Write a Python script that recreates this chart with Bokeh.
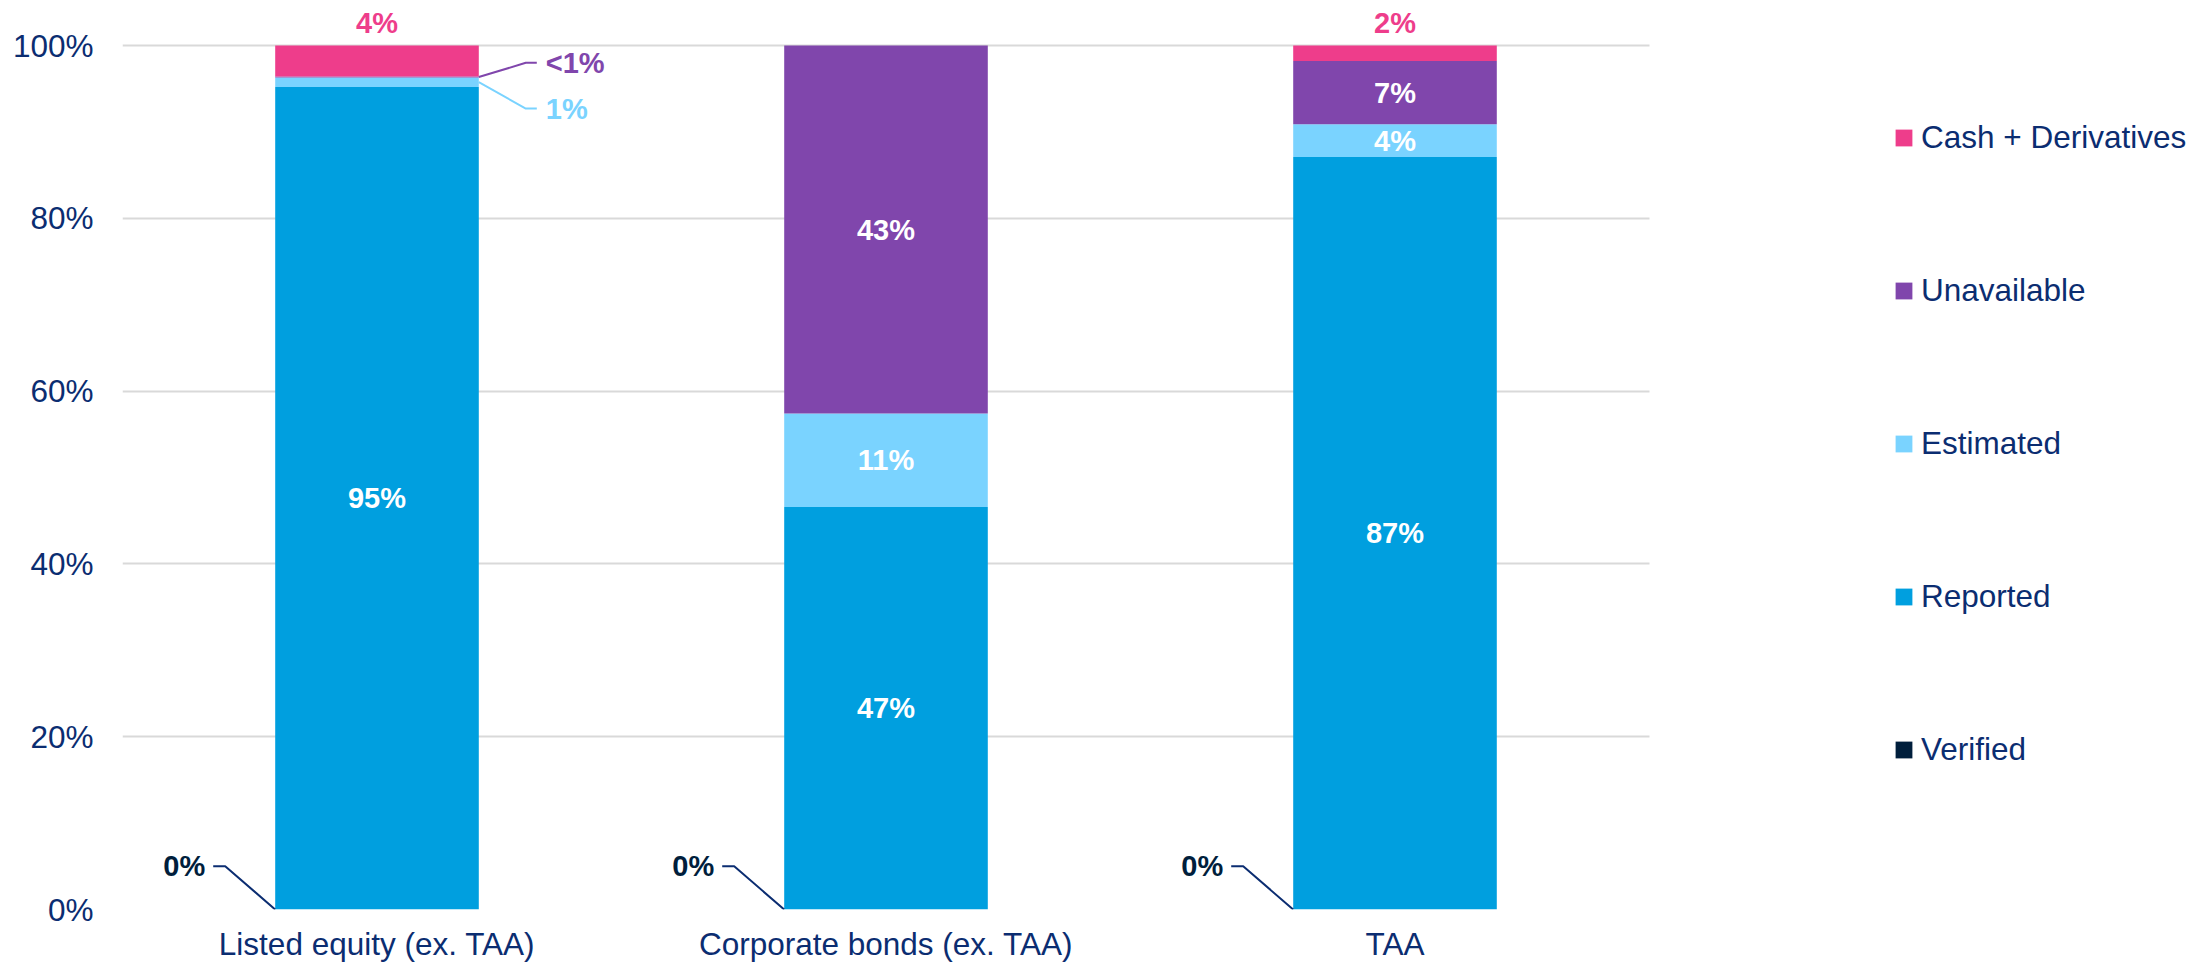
from bokeh.plotting import figure
from bokeh.models import (ColumnDataSource, Range1d, FixedTicker, PrintfTickFormatter,
                          Legend, LegendItem, Grid)
from bokeh.core.properties import value
from bokeh.embed import file_html
from bokeh.resources import INLINE

# ---------------- data ----------------
categories = ["Listed equity (ex. TAA)", "Corporate bonds (ex. TAA)", "TAA"]
series = ["Verified", "Reported", "Estimated", "Unavailable", "Cash + Derivatives"]
verified = [0.0, 0.0, 0.0]
reported = [95.2, 46.6, 87.1]
estimated = [1.1, 10.8, 3.8]
unavailable = [0.1, 42.6, 7.3]
cash = [3.6, 0.0, 1.8]
y_ticks = [0, 20, 40, 60, 80, 100]

# ---------------- style ----------------
FONT = "Liberation Sans"
NAVY = "#0B2D71"
colors = {"Verified": "#001E3C", "Reported": "#009FDF", "Estimated": "#7AD3FF",
          "Unavailable": "#8046AC", "Cash + Derivatives": "#EE3D8B"}
BAR_W = 0.4
PX_X = 509.0   # px per x unit
W, H = 2207, 965
LEFT, BOTTOM = 122, 56
N = len(categories)

HAS_CROSS = "cross_bounds" in Grid.properties()

if HAS_CROSS:
    x_end = (W - LEFT) / PX_X
    right_border = 0
else:
    x_end = N
    right_border = 558

xs = [i + 0.5 for i in range(N)]
data = {"x": xs, "Verified": verified, "Reported": reported, "Estimated": estimated,
        "Unavailable": unavailable, "Cash + Derivatives": cash}
source = ColumnDataSource(data)

p = figure(width=W, height=H, x_range=Range1d(0, x_end), y_range=Range1d(0, 105.21),
           output_backend="svg", toolbar_location=None,
           min_border_left=LEFT, min_border_right=right_border, min_border_top=0,
           min_border_bottom=BOTTOM)
p.outline_line_color = None
p.background_fill_color = "white"
p.border_fill_color = "white"

renderers = p.vbar_stack(series, x="x", width=BAR_W, source=source,
                         fill_color=[colors[s] for s in series], line_color=None)

# axes
p.xaxis.ticker = FixedTicker(ticks=xs)
p.xaxis.major_label_overrides = {x: c for x, c in zip(xs, categories)}
p.yaxis.ticker = FixedTicker(ticks=y_ticks)
p.yaxis.formatter = PrintfTickFormatter(format="%d%%")
for ax in (p.xaxis, p.yaxis):
    ax.axis_line_color = None
    ax.major_tick_line_color = None
    ax.minor_tick_line_color = None
    ax.major_tick_out = 0
    ax.major_tick_in = 0
    ax.major_label_text_font = FONT
    ax.major_label_text_font_size = "31.5px"
    ax.major_label_text_color = NAVY
p.yaxis.major_label_standoff = 29
p.xaxis.major_label_standoff = 16
p.xgrid.grid_line_color = None
p.ygrid.grid_line_color = "#D9D9D9"
p.ygrid.grid_line_width = 2
if HAS_CROSS:
    p.ygrid.cross_bounds = (0, N)

# ---------------- labels ----------------
def fmt(v):
    if v == 0:
        return "0%"
    return "<1%" if v < 1 else f"{round(v)}%"

bottoms = [0.0] * N
stack = {}
for s in series:
    vals = data[s]
    stack[s] = [(b, b + v) for b, v in zip(bottoms, vals)]
    bottoms = [b + v for b, v in zip(bottoms, vals)]

in_x, in_y, in_t = [], [], []
for s in ["Reported", "Estimated", "Unavailable"]:
    for i, (b, t) in enumerate(stack[s]):
        if t - b >= 3:
            in_x.append(xs[i]); in_y.append((b + t) / 2); in_t.append(fmt(t - b))
p.text(in_x, in_y, text=in_t, text_font=value(FONT), text_font_style="bold",
       text_font_size="29px", text_color="white", text_align="center",
       text_baseline="middle")

# cash labels above bars
cx, ct = [], []
for i, v in enumerate(cash):
    if v > 0:
        cx.append(xs[i]); ct.append(fmt(v))
p.text(cx, [100] * len(cx), text=ct, text_font=value(FONT), text_font_style="bold",
       text_font_size="29px", text_color=colors["Cash + Derivatives"], text_align="center",
       text_baseline="middle", y_offset=-23)

# verified 0% labels with leader lines to the left
vl_xs, vl_ys, vt_x, vt_y, vt_t = [], [], [], [], []
for i, v in enumerate(verified):
    left = xs[i] - BAR_W / 2
    ey = 5.0
    vl_xs.append([left, left - 50 / PX_X, left - 62 / PX_X])
    vl_ys.append([v, ey, ey])
    vt_x.append(left - 70 / PX_X); vt_y.append(ey); vt_t.append(fmt(v))
p.multi_line(vl_xs, vl_ys, line_color="#0B2D71", line_width=2)
p.text(vt_x, vt_y, text=vt_t, text_font=value(FONT), text_font_style="bold",
       text_font_size="29px", text_color=colors["Verified"], text_align="right",
       text_baseline="middle")

# small segments: labels right of bar with leader lines
small = []
for s, ly in [("Unavailable", 98.0), ("Estimated", 92.7)]:
    for i, (b, t) in enumerate(stack[s]):
        if 0 < t - b < 3 and cash[i] > 3:
            small.append((s, i, (b + t) / 2, ly, fmt(t - b)))
for s, i, ymid, ly, txt in small:
    right = xs[i] + BAR_W / 2
    p.line([right, right + 47 / PX_X, right + 58 / PX_X], [ymid, ly, ly],
           line_color=colors[s], line_width=2)
    p.text([right + 67 / PX_X], [ly], text=[txt], text_font=value(FONT),
           text_font_style="bold", text_font_size="29px", text_color=colors[s],
           text_align="left", text_baseline="middle")

# ---------------- legend ----------------
rmap = dict(zip(series, renderers))
items = [LegendItem(label=s, renderers=[rmap[s]]) for s in reversed(series)]
legend_kw = dict(items=items, orientation="vertical",
                 glyph_width=21, glyph_height=21, label_height=36, label_standoff=7,
                 spacing=116, padding=0, margin=0, border_line_color=None,
                 background_fill_alpha=0, label_text_font=FONT,
                 label_text_font_size="31.5px", label_text_color=NAVY)
if HAS_CROSS:
    legend = Legend(location=(1893 - LEFT, 141), **legend_kw)
    p.add_layout(legend, "center")
else:
    legend = Legend(location=(245, 141), **legend_kw)
    p.add_layout(legend, "right")

open("out.html", "w").write(file_html(p, INLINE))
